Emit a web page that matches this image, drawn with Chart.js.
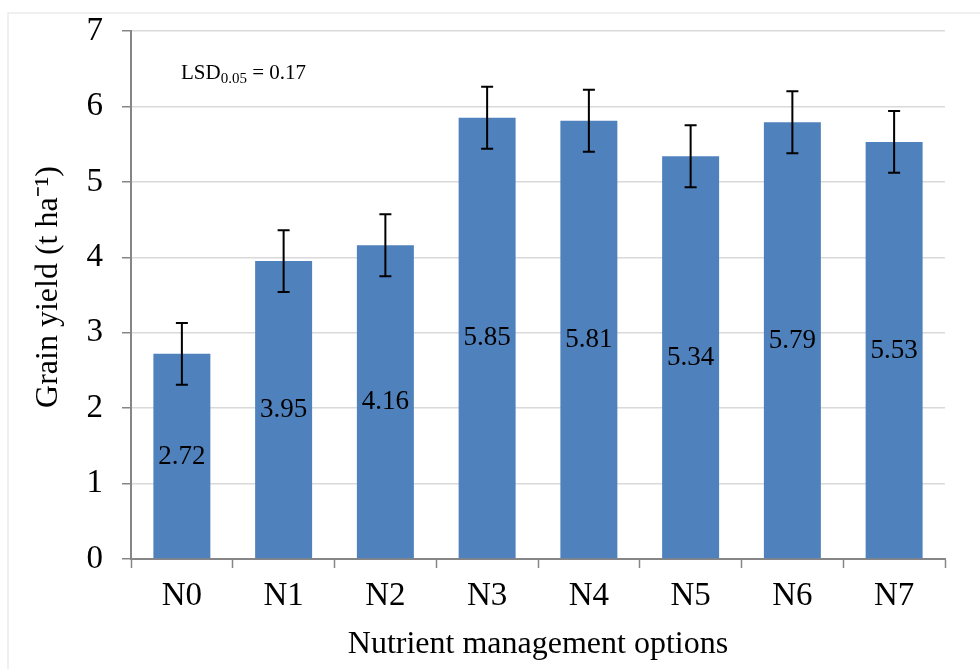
<!DOCTYPE html>
<html>
<head>
<meta charset="utf-8">
<script src="https://cdn.jsdelivr.net/npm/chart.js@4.4.0/dist/chart.umd.min.js"></script>
<style>
  html, body { margin: 0; padding: 0; background: #fff; }
  #wrap { width: 980px; height: 669px; position: relative; }
</style>
</head>
<body>
<div id="wrap"><canvas id="chart" width="980" height="669"></canvas></div>
<script>
// values
var categories = ['N0', 'N1', 'N2', 'N3', 'N4', 'N5', 'N6', 'N7'];
var grainYield = [2.72, 3.95, 4.16, 5.85, 5.81, 5.34, 5.79, 5.53];
var yieldError = [0.41, 0.41, 0.41, 0.41, 0.41, 0.41, 0.41, 0.41];
var yTicks = [0, 1, 2, 3, 4, 5, 6, 7];

var serif = '"Liberation Serif", "Times New Roman", serif';

// light frame round the figure, like the cropped original
var framePlugin = {
  id: 'frame',
  beforeDraw: function (chart) {
    var ctx = chart.ctx;
    ctx.save();
    ctx.strokeStyle = '#ebebeb';
    ctx.lineWidth = 1.5;
    ctx.beginPath();
    ctx.moveTo(980, 13);
    ctx.lineTo(8, 13);
    ctx.lineTo(8, 669);
    ctx.stroke();
    ctx.restore();
  }
};

// error bars + value labels in the middle of each bar
var barExtras = {
  id: 'barExtras',
  afterDatasetsDraw: function (chart) {
    var ctx = chart.ctx;
    var y = chart.scales.y;
    var meta = chart.getDatasetMeta(0);
    ctx.save();
    meta.data.forEach(function (bar, i) {
      var v = grainYield[i];
      var e = yieldError[i];
      var yTop = y.getPixelForValue(v + e);
      var yBot = y.getPixelForValue(v - e);
      ctx.strokeStyle = '#000';
      ctx.lineWidth = 2;
      ctx.beginPath();
      ctx.moveTo(bar.x, yTop);
      ctx.lineTo(bar.x, yBot);
      ctx.moveTo(bar.x - 6, yTop);
      ctx.lineTo(bar.x + 6, yTop);
      ctx.moveTo(bar.x - 6, yBot);
      ctx.lineTo(bar.x + 6, yBot);
      ctx.stroke();

      ctx.fillStyle = '#000';
      ctx.font = '27px ' + serif;
      ctx.textAlign = 'center';
      ctx.textBaseline = 'middle';
      var mid = (y.getPixelForValue(v) + y.getPixelForValue(0)) / 2;
      ctx.fillText(v.toFixed(2), bar.x, mid);
    });

    // LSD note
    ctx.textAlign = 'left';
    ctx.textBaseline = 'alphabetic';
    ctx.font = '21px ' + serif;
    var x0 = 181, base = 79;
    ctx.fillText('LSD', x0, base);
    var w = ctx.measureText('LSD').width;
    ctx.font = '15px ' + serif;
    ctx.fillText('0.05', x0 + w, base + 4);
    w += ctx.measureText('0.05').width;
    ctx.font = '21px ' + serif;
    ctx.fillText(' = 0.17', x0 + w, base);
    ctx.restore();
  }
};

var config = {
  type: 'bar',
  data: {
    labels: categories,
    datasets: [{
      label: 'Grain yield',
      data: grainYield,
      backgroundColor: '#4f81bd',
      borderWidth: 0,
      barPercentage: 0.56,
      categoryPercentage: 1.0
    }]
  },
  options: {
    responsive: false,
    animation: false,
    layout: { padding: { top: 31, right: 35, left: 0, bottom: 0 } },
    plugins: {
      legend: { display: false },
      tooltip: { enabled: false }
    },
    scales: {
      x: {
        afterFit: function (scale) { scale.height = 110; },
        grid: {
          offset: true,
          drawOnChartArea: false,
          drawTicks: true,
          tickLength: 9,
          tickColor: '#868686',
          tickWidth: 1.5
        },
        border: { color: '#868686', width: 2 },
        ticks: { color: '#000', font: { family: serif, size: 33 }, padding: 9, maxRotation: 0 },
        title: {
          display: true,
          text: 'Nutrient management options',
          color: '#000',
          font: { family: serif, size: 32 },
          padding: { top: 0, bottom: 5 }
        }
      },
      y: {
        min: 0,
        max: 7,
        afterFit: function (scale) {
          scale.width = 131;
          scale.paddingTop = 0;
          scale.paddingBottom = 0;
        },
        afterBuildTicks: function (scale) {
          scale.ticks = yTicks.map(function (t) { return { value: t }; });
        },
        grid: {
          color: '#d9d9d9',
          lineWidth: 1.5,
          tickLength: 9,
          tickColor: '#868686',
          tickWidth: 1.5
        },
        border: { color: '#868686', width: 2 },
        ticks: { color: '#000', font: { family: serif, size: 33 }, padding: 19 },
        title: {
          display: true,
          text: '\u00A0\u00A0Grain yield (t ha\u207B\u00B9)',
          color: '#000',
          font: { family: serif, size: 32 },
          padding: { top: 29, bottom: 0 }
        }
      }
    }
  },
  plugins: [framePlugin, barExtras]
};

window.myChart = new Chart(document.getElementById('chart'), config);
</script>
</body>
</html>
